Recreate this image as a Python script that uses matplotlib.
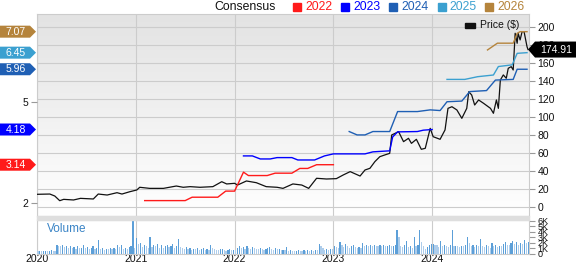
import numpy as np
import matplotlib
matplotlib.use("Agg")
import matplotlib.pyplot as plt
from matplotlib.patches import Polygon, Rectangle
from matplotlib.colors import LinearSegmentedColormap

plt.rcParams['font.family'] = ['Liberation Sans', 'DejaVu Sans']

# ---------------- data ----------------
price_t = [2020.00, 2020.13, 2020.18, 2020.23, 2020.27, 2020.37, 2020.44, 2020.57, 2020.62, 2020.71,
           2020.81, 2020.86, 2020.94, 2021.01, 2021.04, 2021.14, 2021.28, 2021.41, 2021.48, 2021.55,
           2021.65, 2021.78, 2021.87, 2021.92, 2022.00, 2022.03, 2022.12, 2022.22, 2022.32, 2022.43,
           2022.49, 2022.59, 2022.68, 2022.75, 2022.83, 2022.93, 2023.03, 2023.10, 2023.17, 2023.27,
           2023.32, 2023.37, 2023.42, 2023.47, 2023.52, 2023.57, 2023.59, 2023.66, 2023.71, 2023.76,
           2023.79, 2023.84, 2023.89, 2023.93, 2023.98, 2024.01, 2024.08, 2024.13, 2024.16, 2024.20,
           2024.25, 2024.30, 2024.35, 2024.37, 2024.40, 2024.43, 2024.47, 2024.52, 2024.59, 2024.62,
           2024.65, 2024.67, 2024.69, 2024.72, 2024.75, 2024.77, 2024.80, 2024.82, 2024.84, 2024.86,
           2024.87, 2024.89, 2024.91, 2024.93, 2024.96, 2024.97]
price = [14.1, 14.4, 12.2, 7.0, 8.5, 7.8, 9.6, 8.9, 14.4, 13.3,
         15.9, 14.4, 17.0, 18.9, 21.9, 20.7, 20.7, 23.3, 21.9, 22.6,
         21.9, 22.6, 28.1, 25.6, 26.3, 24.4, 28.9, 27.0, 22.6, 21.9,
         20.7, 25.6, 24.4, 20.7, 31.9, 31.1, 31.5, 35.6, 39.3, 34.4,
         41.1, 43.0, 50.4, 55.9, 57.8, 59.6, 80.0, 83.7, 72.6, 76.3,
         70.7, 75.2, 64.1, 65.2, 87.4, 78.1, 75.2, 85.6, 109.6, 111.4,
         107.8, 98.5, 109.6, 128.1, 124.4, 113.3, 118.9, 115.2, 109.6, 104.1,
         118.9, 109.6, 141.1, 146.7, 143.0, 154.1, 155.9, 152.2, 193.0, 181.9,
         193.0, 185.6, 194.8, 194.8, 178.1, 174.91]

eps2022_t = [2021.09, 2021.50, 2021.57, 2021.83, 2021.91, 2022.00, 2022.09, 2022.14, 2022.33,
             2022.41, 2022.58, 2022.66, 2022.74, 2022.83, 2023.00]
eps2022 = [2.08, 2.08, 2.18, 2.18, 2.36, 2.36, 2.92, 2.82, 2.82, 2.89, 2.89, 3.03, 3.03, 3.14, 3.14]

eps2023_t = [2022.09, 2022.18, 2022.26, 2022.36, 2022.43, 2022.58, 2022.64, 2022.81, 2022.91,
             2023.00, 2023.32, 2023.40, 2023.57, 2023.60, 2023.65, 2023.85, 2023.91, 2024.00]
eps2023 = [3.40, 3.40, 3.31, 3.31, 3.35, 3.35, 3.28, 3.28, 3.40, 3.46, 3.46, 3.52, 3.55, 3.96,
           4.11, 4.12, 4.16, 4.18]

eps2024_t = [2023.16, 2023.24, 2023.32, 2023.40, 2023.57, 2023.65, 2023.85, 2023.98, 2024.08,
             2024.15, 2024.30, 2024.38, 2024.55, 2024.64, 2024.82, 2024.86, 2024.96]
eps2024 = [4.12, 4.02, 4.02, 4.12, 4.12, 4.71, 4.71, 4.76, 4.74, 5.00, 5.02, 5.30, 5.33, 5.64,
           5.66, 5.96, 5.96]

eps2025_t = [2024.15, 2024.33, 2024.46, 2024.62, 2024.67, 2024.81, 2024.86, 2024.96]
eps2025 = [5.66, 5.66, 5.74, 5.79, 6.04, 6.09, 6.43, 6.45]

eps2026_t = [2024.56, 2024.66, 2024.82, 2024.86, 2024.89, 2024.96]
eps2026 = [6.53, 6.73, 6.73, 7.02, 7.07, 7.07]

# weekly volume, thousands (13 weeks per row = one quarter)
volume = [
    0.4, 0.5, 0.4, 0.4, 0.5, 0.4, 0.5, 0.6, 0.5, 0.4, 1.5, 1.4, 1.3,
    1.5, 1.2, 1.3, 1.0, 1.4, 1.1, 1.2, 0.9, 1.3, 1.0, 1.1, 1.5, 1.0,
    1.2, 0.9, 1.0, 1.3, 0.8, 1.1, 2.4, 0.9, 1.0, 0.7, 0.9, 0.8, 1.0,
    0.8, 1.1, 0.9, 1.6, 1.2, 1.6, 0.9, 1.1, 0.8, 1.2, 1.3, 5.9, 1.0,
    2.8, 1.7, 1.9, 1.2, 1.6, 1.4, 1.0, 3.0, 1.2, 1.6, 1.4, 1.8, 1.1,
    1.6, 1.0, 1.3, 1.5, 1.2, 1.4, 1.8, 1.1, 1.3, 2.6, 1.2, 1.0, 0.9,
    1.2, 0.8, 1.0, 0.7, 0.9, 0.8, 1.1, 0.6, 0.8, 1.0, 0.7, 0.9, 0.6,
    1.5, 1.0, 0.8, 0.7, 0.6, 0.8, 0.9, 0.6, 0.5, 0.7, 0.8, 0.6, 0.7,
    0.6, 1.0, 1.4, 1.0, 1.2, 0.9, 1.3, 1.0, 0.8, 1.2, 1.0, 0.9, 0.8,
    1.1, 0.9, 0.7, 0.8, 1.0, 1.2, 0.9, 0.7, 1.0, 0.8, 0.9, 0.6, 0.7,
    0.6, 1.2, 0.5, 0.6, 0.5, 0.4, 0.5, 0.6, 0.5, 0.4, 0.6, 0.5, 0.6,
    0.5, 0.6, 0.5, 0.7, 0.6, 1.7, 1.4, 1.0, 0.6, 0.8, 0.7, 0.9, 0.8,
    1.4, 1.2, 1.0, 2.1, 1.5, 1.2, 1.7, 1.3, 1.0, 1.4, 1.5, 1.2, 1.1,
    1.2, 1.0, 2.0, 1.3, 1.5, 1.4, 1.6, 1.3, 1.5, 1.4, 1.3, 1.6, 1.4,
    1.5, 1.3, 1.4, 1.6, 1.3, 1.4, 1.6, 4.3, 3.0, 1.4, 1.2, 1.5, 2.3,
    1.2, 1.4, 1.0, 3.0, 1.3, 1.5, 4.3, 2.1, 1.3, 0.9, 1.2, 1.5, 1.7,
    1.8, 1.6, 1.5, 1.2, 2.3, 1.4, 1.6, 1.3, 1.2, 1.5, 4.3, 1.3, 1.4,
    1.3, 1.2, 1.4, 1.3, 1.5, 3.0, 2.0, 1.4, 1.6, 1.2, 1.5, 1.3, 2.6,
    1.4, 1.2, 1.5, 1.3, 1.1, 2.0, 1.3, 1.5, 1.2, 1.4, 1.3, 1.8, 2.2,
    1.6, 1.5, 2.0, 2.3, 1.7, 2.2, 1.5, 2.0, 1.8, 2.5, 1.9, 2.2, 2.9,
]

year_ticks = [2020, 2021, 2022, 2023, 2024]
year_labels = ["2020", "2021", "2022", "2023", "2024"]
price_ticks = [0, 20, 40, 60, 80, 100, 120, 140, 160, 180, 200]
eps_ticks = [2, 5]
vol_ticks = [0, 1, 2, 3, 4, 5, 6]
vol_labels = ["0", "1K", "2K", "3K", "4K", "5K", "6K"]
legend_years = ["2022", "2023", "2024", "2025", "2026"]
last_price_label = "174.91"

# ---------------- styles ----------------
C22, C23, C24, C25, C26 = '#ff1a1a', '#0000ff', '#1f5fb4', '#3ba0d0', '#b5843c'
GRID = '#cccccc'
W, H = 576, 264

fig = plt.figure(figsize=(W / 100, H / 100), dpi=100)


def box(x0, y0, x1, y1):
    return [x0 / W, 1 - y1 / H, (x1 - x0) / W, (y1 - y0) / H]


XL = (2020.0, 2024.98)

# main price axes
axp = fig.add_axes(box(37, 14, 529, 216))
axp.set_xlim(*XL)
axp.set_ylim(-10, 214.4)
grad = np.linspace(0, 1, 256).reshape(-1, 1)
cmap = LinearSegmentedColormap.from_list('g', ['#e3e3e3', '#ffffff'])
axp.imshow(grad, cmap=cmap, aspect='auto', extent=[XL[0], XL[1], -10, 214.4],
           origin='upper', zorder=0)
axp.set_xticks(year_ticks)
axp.set_xticklabels([])
axp.tick_params(axis='x', length=0)
axp.grid(True, color=GRID, lw=0.8, zorder=1)
axp.set_axisbelow(True)
for s in axp.spines.values():
    s.set_color(GRID)
    s.set_linewidth(0.8)
axp.plot(price_t, price, color='#111111', lw=0.9, zorder=5)

# EPS twin axes (left)
axe = axp.twinx()
axe.set_ylim(1.625, 7.592)
axe.yaxis.tick_left()
axe.yaxis.set_label_position('left')
axe.set_yticks(eps_ticks)
axe.set_yticklabels([str(v) for v in eps_ticks])
axe.tick_params(axis='y', length=4, color='#999999', labelsize=7.5, pad=2, labelcolor='#111111')
for s in axe.spines.values():
    s.set_visible(False)
axe.patch.set_visible(False)
series = [(eps2022_t, eps2022, C22), (eps2023_t, eps2023, C23), (eps2024_t, eps2024, C24),
          (eps2025_t, eps2025, C25), (eps2026_t, eps2026, C26)]
for t, v, c in series:
    axe.plot(t, v, color=c, lw=1.0, zorder=4)
axe.set_xlim(*XL)

# price ticks on the right (after twinx, which resets them)
axp.yaxis.tick_right()
axp.yaxis.set_label_position('right')
axp.set_yticks(price_ticks)
axp.set_yticklabels([str(v) for v in price_ticks])
axp.tick_params(axis='y', which='both', left=False, labelleft=False, right=True, labelright=True,
                length=4, color='#999999', labelsize=7.5, pad=2, labelcolor='#111111')

# volume axes
axv = fig.add_axes(box(37, 219.5, 529, 253.5))
axv.set_xlim(*XL)
axv.set_ylim(0, 6.24)
n = len(volume)
vt = 2020.0 + (np.arange(n) + 0.5) / 52.0
vcols = ['#5c9fd8' if (i > 0 and volume[i] >= volume[i - 1]) else '#aecdeb' for i in range(n)]
axv.bar(vt, volume, width=0.6 / 52, color=vcols, zorder=3)
axv.set_xticks(year_ticks)
axv.set_xticklabels(year_labels)
axv.tick_params(axis='x', length=0, labelsize=7.5, pad=0.5, labelcolor='#111111')
axv.yaxis.tick_right()
axv.set_yticks(vol_ticks)
axv.set_yticklabels(vol_labels)
axv.tick_params(axis='y', length=4, color='#999999', labelsize=6.5, pad=2, labelcolor='#111111')
axv.grid(True, axis='x', color=GRID, lw=0.8, zorder=1)
axv.set_axisbelow(True)
for s in axv.spines.values():
    s.set_color(GRID)
    s.set_linewidth(0.8)
axv.text(0.02, 0.72, 'Volume', transform=axv.transAxes, color='#3a84c6', fontsize=8.5,
         va='center', ha='left')

# separator band
fig.patches.append(Rectangle((37 / W, 1 - 219.5 / H), (529 - 37) / W, 3.5 / H,
                             transform=fig.transFigure, color='#dedede', zorder=0))

# top legend
fig.text(214 / W, 1 - 7 / H, 'Consensus', fontsize=8.8, va='center', ha='left', color='#111111')
lx = [293, 341, 389, 437.5, 485]
for x, lab, c in zip(lx, legend_years, [C22, C23, C24, C25, C26]):
    fig.patches.append(Rectangle((x / W, 1 - 11 / H), 8 / W, 8 / H, transform=fig.transFigure,
                                 color=c))
    fig.text((x + 12) / W, 1 - 7 / H, lab, fontsize=8.8, va='center', ha='left', color=c)

# price legend inside
fig.patches.append(Rectangle((465 / W, 1 - 28 / H), 10 / W, 5 / H, transform=fig.transFigure,
                             color='#111111'))
fig.text(480 / W, 1 - 25.5 / H, 'Price ($)', fontsize=7.5, va='center', ha='left', color='#111111')

fig.canvas.draw()

# left EPS tags
tag_vals = [eps2026[-1], eps2025[-1], eps2024[-1], eps2023[-1], eps2022[-1]]
tag_cols = [C26, C25, C24, C23, C22]
for v, c in zip(tag_vals, tag_cols):
    yd = axe.transData.transform((XL[0], v))[1]
    yp = H - yd  # pixel from top
    pts = [(0, yp - 6), (30, yp - 6), (36, yp), (30, yp + 6), (0, yp + 6)]
    poly = Polygon([(x / W, 1 - y / H) for x, y in pts], closed=True,
                   transform=fig.transFigure, facecolor=c, edgecolor='none')
    fig.patches.append(poly)
    fig.text(16 / W, 1 - yp / H, f'{v:.2f}', color='white', fontsize=7.5, ha='center',
             va='center')

# right price tag
yd = axp.transData.transform((XL[1], price[-1]))[1]
yp = H - yd
pts = [(528, yp), (535, yp - 8), (576, yp - 8), (576, yp + 8), (535, yp + 8)]
fig.patches.append(Polygon([(x / W, 1 - y / H) for x, y in pts], closed=True,
                           transform=fig.transFigure, facecolor='#000000', edgecolor='none'))
fig.text(556 / W, 1 - yp / H, last_price_label, color='white', fontsize=7.5, ha='center',
         va='center')

fig.savefig('out.png', dpi=100)
